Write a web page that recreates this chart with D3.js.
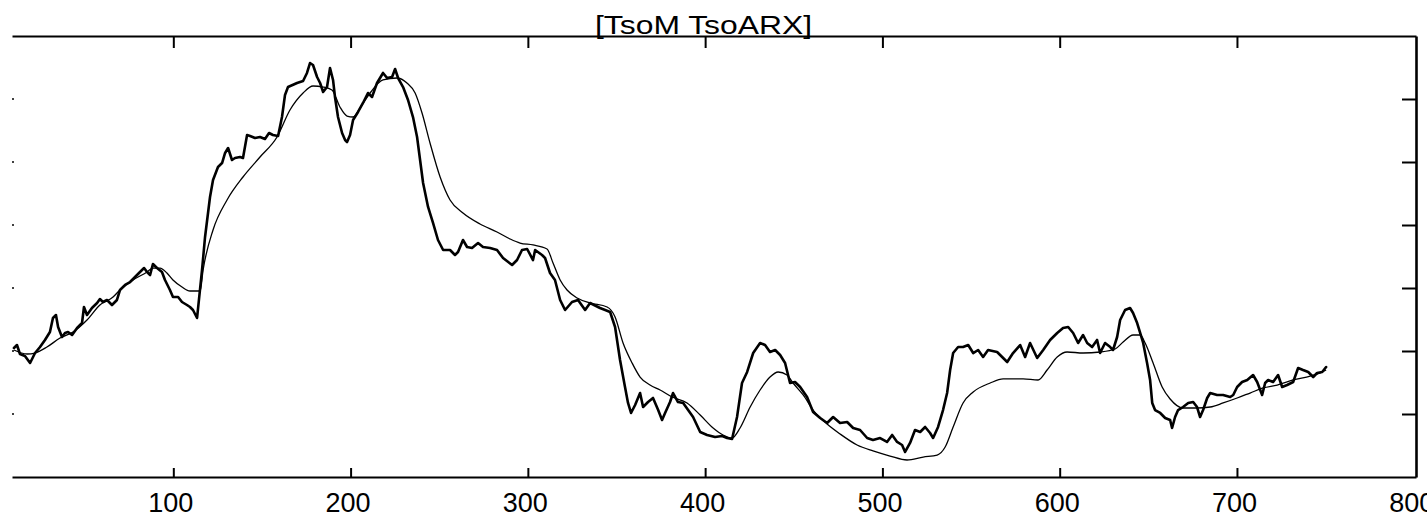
<!DOCTYPE html>
<html>
<head>
<meta charset="utf-8">
<script src="https://cdn.jsdelivr.net/npm/d3@7"></script>
<style>
  html, body { margin: 0; padding: 0; background: #fff; }
  svg { display: block; }
</style>
</head>
<body>
<div id="chart"></div>
<script>
// ---- data ----
const title = "[TsoM TsoARX]";
const xTicks = [100, 200, 300, 400, 500, 600, 700, 800];
const yTicks = [1, 2, 3, 4, 5, 6];

// measured series (thick)
const tsomX = [10.1,11.8,13.5,16.3,19.2,22.0,24.8,27.6,30.4,32.1,33.8,35.0,37.2,38.9,40.6,42.9,45.7,48.5,49.6,51.3,54.1,57.0,58.6,60.3,62.6,65.4,68.2,69.9,72.8,75.6,78.4,81.2,83.5,85.2,86.9,88.5,90.8,93.6,95.3,98.1,99.8,102.7,104.9,107.7,109.4,111.1,113.4,116.2,117.9,120.7,122.4,125.2,127.5,129.2,130.9,133.1,134.8,137.6,139.3,141.6,143.3,146.1,148.9,151.7,154.0,156.2,159.1,161.3,163.0,164.7,169.8,173.2,175.4,177.1,178.8,181.1,182.8,184.5,186.7,188.4,190.1,191.2,192.9,195.2,196.9,198.0,199.7,201.4,204.2,207.0,209.8,212.1,214.9,218.3,220.6,223.4,225.1,226.8,229.6,232.4,235.2,237.5,239.2,240.9,243.7,246.5,249.3,252.2,256.1,258.9,260.6,263.4,265.7,268.5,271.9,274.7,278.7,282.6,286.0,291.1,293.9,296.7,299.6,302.9,304.1,308.0,309.7,312.5,315.3,318.2,321.0,324.9,328.3,332.3,335.1,340.7,343.6,346.4,349.2,352.0,354.8,356.5,358.2,360.5,363.3,365.0,367.8,370.6,373.5,375.7,377.4,380.2,381.9,384.7,387.6,390.4,393.2,397.2,401.1,405.6,409.6,412.4,415.2,418.0,420.8,423.7,427.1,431.0,433.8,436.6,439.5,442.3,445.1,447.9,450.7,453.6,457.5,460.9,464.9,468.8,472.2,476.1,480.1,483.5,487.4,491.4,494.7,498.7,502.6,505.5,508.3,511.1,512.8,515.6,518.4,521.3,524.1,526.9,528.6,531.4,534.2,536.5,538.2,539.9,542.7,545.5,548.4,551.2,554.0,556.8,559.6,564.7,570.4,573.7,577.7,580.5,583.3,587.3,590.7,594.6,598.6,601.9,604.8,607.6,610.4,613.2,615.5,618.3,621.1,622.8,625.6,628.5,630.1,632.4,634.1,636.9,639.7,641.4,643.7,645.4,647.1,649.3,651.0,652.2,653.8,656.7,659.5,662.3,663.4,665.1,666.8,669.6,672.5,675.3,677.5,679.2,680.9,683.2,684.9,688.8,692.2,696.2,697.9,700.1,702.9,705.8,709.1,711.4,714.2,715.9,717.6,720.4,723.2,725.5,728.3,731.7,734.5,737.3,740.2,743.0,745.2,748.1,750.3];
const tsomY = [2.048,2.095,1.952,1.921,1.810,1.968,2.063,2.175,2.302,2.524,2.571,2.381,2.222,2.286,2.302,2.254,2.365,2.444,2.698,2.571,2.683,2.762,2.825,2.778,2.810,2.730,2.810,2.968,3.048,3.095,3.175,3.254,3.317,3.254,3.206,3.381,3.317,3.254,3.127,2.968,2.857,2.857,2.778,2.730,2.698,2.651,2.524,3.286,3.810,4.444,4.714,4.921,4.984,5.143,5.222,5.032,5.063,5.079,5.063,5.429,5.413,5.381,5.397,5.365,5.460,5.429,5.413,5.714,6.063,6.190,6.254,6.286,6.413,6.571,6.540,6.349,6.254,6.111,6.190,6.492,6.302,6.032,5.714,5.460,5.349,5.317,5.429,5.667,5.794,5.937,6.095,6.032,6.254,6.413,6.333,6.349,6.476,6.333,6.190,5.984,5.714,5.397,5.032,4.667,4.286,4.032,3.762,3.603,3.603,3.524,3.571,3.762,3.651,3.635,3.714,3.651,3.635,3.603,3.476,3.365,3.444,3.603,3.619,3.444,3.603,3.524,3.476,3.238,3.127,2.810,2.651,2.778,2.810,2.651,2.762,2.683,2.651,2.619,2.381,1.857,1.429,1.175,1.016,1.143,1.333,1.111,1.190,1.254,1.063,0.905,1.016,1.190,1.333,1.190,1.175,1.063,0.952,0.714,0.667,0.635,0.651,0.619,0.603,0.952,1.492,1.667,1.968,2.127,2.095,1.984,2.016,1.937,1.810,1.492,1.508,1.429,1.270,1.032,0.937,0.857,0.952,0.857,0.873,0.778,0.746,0.619,0.587,0.619,0.556,0.667,0.556,0.508,0.397,0.540,0.746,0.714,0.794,0.698,0.619,0.794,1.063,1.333,1.698,1.968,2.063,2.063,2.095,1.968,2.016,1.905,2.016,1.984,1.825,1.968,2.095,1.905,2.127,1.889,2.016,2.175,2.286,2.365,2.381,2.286,2.127,2.254,2.127,2.063,2.175,1.968,2.127,2.063,2.016,2.222,2.492,2.651,2.683,2.603,2.444,2.286,2.127,1.810,1.540,1.175,1.063,1.016,0.937,0.905,0.778,0.952,1.063,1.111,1.175,1.190,1.111,0.952,1.063,1.254,1.333,1.302,1.302,1.270,1.302,1.429,1.508,1.540,1.619,1.508,1.302,1.492,1.540,1.508,1.619,1.429,1.460,1.508,1.730,1.698,1.667,1.587,1.651,1.667,1.746];

// model series (thin)
const arxX = [10.1,17.5,22.0,28.7,36.1,43.4,51.3,58.6,66.0,69.9,77.3,85.2,88.5,92.5,96.4,99.8,104.9,109.4,115.1,116.8,122.4,130.3,139.3,148.9,158.5,165.8,173.2,178.8,184.5,189.5,194.0,198.0,201.4,205.3,211.0,218.3,226.2,231.8,236.4,240.3,244.8,250.5,256.1,263.4,273.0,282.6,290.0,295.6,302.9,310.8,314.2,318.2,322.1,327.8,335.1,344.7,349.2,353.7,358.8,363.3,368.9,374.6,381.4,389.8,397.2,404.5,410.1,415.2,419.7,425.4,431.0,436.6,441.2,446.2,449.6,455.3,460.9,468.8,476.1,485.7,494.7,504.3,513.9,523.0,530.9,535.4,539.9,545.5,551.2,560.8,568.1,579.4,587.8,592.9,598.6,604.2,613.2,622.8,631.3,635.8,641.4,645.4,648.2,652.7,657.8,662.3,669.6,677.5,684.9,692.2,700.1,707.4,714.8,722.7,731.7,741.3,746.9,750.3];
const arxY = [2.016,1.952,1.968,2.063,2.206,2.302,2.492,2.730,2.857,2.968,3.127,3.254,3.317,3.317,3.238,3.127,3.016,2.952,2.952,3.286,3.921,4.397,4.762,5.079,5.397,5.825,6.095,6.206,6.190,6.143,5.873,5.730,5.714,5.857,6.095,6.302,6.333,6.254,6.095,5.778,5.302,4.762,4.397,4.190,4.016,3.889,3.778,3.714,3.683,3.619,3.397,3.127,2.968,2.841,2.762,2.698,2.540,2.127,1.810,1.587,1.460,1.381,1.270,1.175,0.984,0.778,0.667,0.619,0.778,1.111,1.381,1.587,1.667,1.619,1.492,1.302,1.063,0.841,0.683,0.508,0.413,0.333,0.270,0.317,0.349,0.476,0.794,1.175,1.349,1.492,1.556,1.556,1.540,1.698,1.905,1.984,1.968,1.984,2.032,2.143,2.254,2.254,2.127,1.810,1.429,1.238,1.095,1.095,1.111,1.175,1.254,1.333,1.413,1.460,1.540,1.603,1.651,1.698];

(function () {
  const W = 1427, H = 520;
  const mLeft = 12, mRight = 1416, mTop = 36, mBottom = 477;

  const svg = d3.select("#chart").append("svg")
    .attr("width", W).attr("height", H)
    .attr("viewBox", `0 0 ${W} ${H}`);
  svg.append("rect").attr("width", W).attr("height", H).attr("fill", "#fff");

  const x = d3.scaleLinear().domain([9, 801]).range([mLeft, mRight]);
  const y = d3.scaleLinear().domain([0, 7]).range([mBottom, mTop]);

  // top axis (ticks inward, no labels)
  const topAxis = svg.append("g").attr("transform", `translate(0,${mTop})`)
    .call(d3.axisTop(x).tickValues(xTicks.filter(v => v < 800)).tickSize(-12).tickSizeOuter(0).tickFormat(""));
  topAxis.select(".domain").attr("stroke", "#000").attr("stroke-width", 1.8);
  topAxis.selectAll(".tick line").attr("stroke", "#000").attr("stroke-width", 2);

  // bottom axis (ticks inward, labels)
  const botAxis = svg.append("g").attr("transform", `translate(0,${mBottom})`)
    .call(d3.axisBottom(x).tickValues(xTicks).tickSize(-9).tickSizeOuter(0).tickPadding(16).tickFormat(d3.format("d")));
  botAxis.select(".domain").attr("stroke", "#000").attr("stroke-width", 1.8);
  botAxis.selectAll(".tick line").attr("stroke", "#000").attr("stroke-width", 2)
    .filter(d => d === 800).remove();
  botAxis.selectAll(".tick text")
    .attr("fill", "#000")
    .attr("dx", -3)
    .style("font-family", "'Liberation Sans', Arial, sans-serif")
    .style("font-size", "27px");

  // right axis (ticks inward)
  const rightAxis = svg.append("g").attr("transform", `translate(${mRight},0)`)
    .call(d3.axisRight(y).tickValues(yTicks).tickSize(-14).tickSizeOuter(0).tickFormat(""));
  rightAxis.select(".domain").attr("stroke", "#000").attr("stroke-width", 2.6);
  rightAxis.selectAll(".tick line").attr("stroke", "#000").attr("stroke-width", 2);

  // left faint tick marks
  svg.append("g").selectAll("line").data(yTicks).join("line")
    .attr("x1", mLeft).attr("x2", mLeft + 2)
    .attr("y1", d => y(d)).attr("y2", d => y(d))
    .attr("stroke", "#000").attr("stroke-width", 1.5);

  // curves
  const tsom = tsomX.map((v, i) => [v, tsomY[i]]);
  const arx = arxX.map((v, i) => [v, arxY[i]]);

  svg.append("path").datum(arx)
    .attr("fill", "none").attr("stroke", "#000").attr("stroke-width", 1.3)
    .attr("d", d3.line().x(d => x(d[0])).y(d => y(d[1])).curve(d3.curveMonotoneX));

  svg.append("path").datum(tsom)
    .attr("fill", "none").attr("stroke", "#000").attr("stroke-width", 2.6)
    .attr("stroke-linejoin", "round").attr("stroke-linecap", "round")
    .attr("d", d3.line().x(d => x(d[0])).y(d => y(d[1])));

  // title sitting on the top frame line
  svg.append("text")
    .attr("x", 595).attr("y", 34)
    .attr("textLength", 217).attr("lengthAdjust", "spacingAndGlyphs")
    .attr("fill", "#000")
    .style("font-family", "'Liberation Sans', Arial, sans-serif")
    .style("font-size", "25px")
    .text(title);
})();
</script>
</body>
</html>
